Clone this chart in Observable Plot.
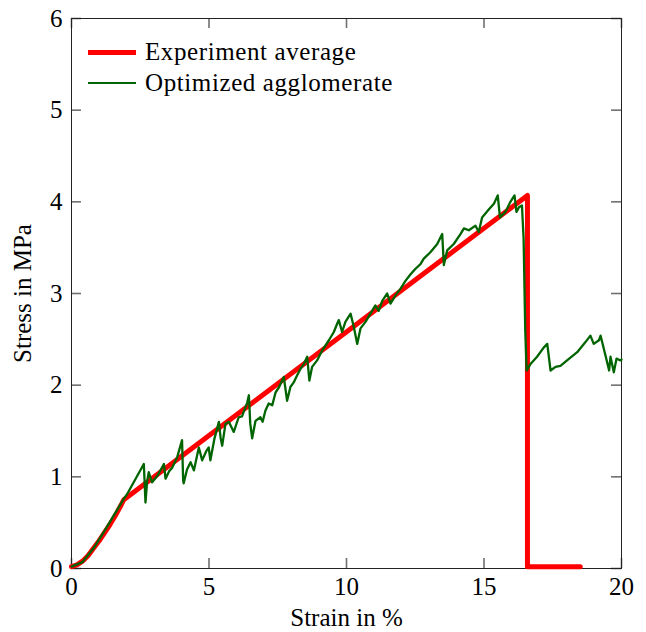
<!DOCTYPE html>
<html><head><meta charset="utf-8">
<script src="https://cdn.jsdelivr.net/npm/d3@7"></script>
<script src="https://cdn.jsdelivr.net/npm/@observablehq/plot@0.6"></script>
<style>
body{margin:0;background:#fff;}
#wrap{position:relative;width:646px;height:632px;font-family:"Liberation Serif",serif;}
.leg{position:absolute;left:88px;height:30px;display:flex;align-items:center;font-size:25px;letter-spacing:0.6px;color:#000;white-space:nowrap;}
.leg .bar{display:inline-block;width:48px;margin-right:9px;}
</style></head><body><div id="wrap"></div>
<script>
const xTicks = [0, 5, 10, 15, 20];
const yTicks = [0, 1, 2, 3, 4, 5, 6];
const seriesNames = ["Experiment average", "Optimized agglomerate"];

const redX = [0, 0.2, 0.4, 0.6, 0.8, 1.0, 1.2, 1.4, 1.6, 1.8, 1.9, 16.58, 16.58, 18.5];
const redY = [0.02, 0.04, 0.08, 0.14, 0.22, 0.30, 0.39, 0.48, 0.58, 0.69, 0.75, 4.07, 0.02, 0.02];

const greenX = [0, 0.4, 0.8, 1.2, 1.6, 1.9, 2.02, 2.63, 2.69, 2.75, 2.81, 2.93, 3.12, 3.25, 3.36, 3.42, 3.55, 3.66, 3.85, 4.02, 4.06, 4.08, 4.2, 4.33, 4.45, 4.63, 4.75, 4.9, 4.99, 5.05, 5.2, 5.36, 5.42, 5.48, 5.6, 5.72, 5.9, 6.08, 6.2, 6.39, 6.45, 6.5, 6.57, 6.69, 6.87, 6.95, 7.05, 7.17, 7.3, 7.42, 7.55, 7.72, 7.84, 7.96, 8.08, 8.21, 8.33, 8.45, 8.57, 8.65, 8.75, 8.93, 9.12, 9.36, 9.54, 9.66, 9.72, 9.84, 9.96, 10.15, 10.27, 10.39, 10.51, 10.69, 10.87, 11.05, 11.17, 11.30, 11.48, 11.6, 11.78, 11.96, 12.15, 12.33, 12.51, 12.69, 12.81, 13.05, 13.3, 13.48, 13.54, 13.66, 13.9, 14.15, 14.27, 14.45, 14.69, 14.81, 14.93, 15.18, 15.36, 15.5, 15.58, 15.78, 15.96, 16.11, 16.18, 16.27, 16.38, 16.44, 16.5, 16.55, 16.69, 16.93, 17.17, 17.3, 17.42, 17.6, 17.78, 18.02, 18.39, 18.69, 18.87, 18.99, 19.18, 19.24, 19.42, 19.55, 19.6, 19.72, 19.82, 19.96, 20.0];
const greenY = [0.02, 0.07, 0.22, 0.41, 0.61, 0.76, 0.81, 1.14, 0.72, 0.95, 1.05, 0.94, 1.01, 1.08, 1.14, 0.98, 1.06, 1.10, 1.22, 1.40, 0.96, 0.93, 1.08, 1.16, 1.07, 1.32, 1.18, 1.28, 1.32, 1.18, 1.42, 1.60, 1.43, 1.34, 1.58, 1.60, 1.49, 1.65, 1.66, 1.81, 1.89, 1.58, 1.42, 1.61, 1.65, 1.60, 1.72, 1.80, 1.78, 1.92, 1.98, 2.09, 1.83, 1.98, 2.03, 2.11, 2.18, 2.23, 2.31, 2.05, 2.20, 2.27, 2.38, 2.49, 2.58, 2.67, 2.71, 2.58, 2.69, 2.78, 2.63, 2.45, 2.62, 2.69, 2.78, 2.87, 2.81, 2.92, 3.00, 2.89, 2.98, 3.05, 3.14, 3.21, 3.27, 3.32, 3.38, 3.45, 3.54, 3.65, 3.31, 3.47, 3.54, 3.65, 3.71, 3.69, 3.74, 3.67, 3.83, 3.92, 3.98, 4.07, 3.83, 3.89, 4.00, 4.07, 3.89, 3.94, 3.96, 3.60, 2.60, 2.16, 2.23, 2.31, 2.41, 2.45, 2.16, 2.20, 2.21, 2.27, 2.36, 2.47, 2.54, 2.45, 2.49, 2.54, 2.32, 2.16, 2.31, 2.14, 2.29, 2.27, 2.28];

const redData = redX.map((x, i) => ({x, y: redY[i]}));
const greenData = greenX.map((x, i) => ({x, y: greenY[i]}));

const W = 646, H = 632, mL = 71, mR = 25, mT = 18, mB = 64;
const innerW = W - mL - mR, innerH = H - mT - mB;
const tickGray = "#707070";
const tk = 10;
const chart = Plot.plot({
  width: W, height: H,
  marginLeft: mL, marginRight: mR, marginTop: mT, marginBottom: mB,
  x: {domain: [0, 20]},
  y: {domain: [0, 6]},
  style: {fontFamily: "'Liberation Serif', serif", fontSize: "25px", background: "white", color: "#000"},
  marks: [
    Plot.tickX(xTicks, {x: d => d, insetTop: innerH - tk, stroke: tickGray, strokeWidth: 1.6}),
    Plot.tickX(xTicks, {x: d => d, insetBottom: innerH - tk, stroke: tickGray, strokeWidth: 1.6}),
    Plot.tickY(yTicks, {y: d => d, insetRight: innerW - tk, stroke: tickGray, strokeWidth: 1.6}),
    Plot.tickY(yTicks, {y: d => d, insetLeft: innerW - tk, stroke: tickGray, strokeWidth: 1.6}),
    Plot.frame({stroke: "#222", strokeWidth: 1}),
    Plot.axisX({ticks: xTicks, anchor: "bottom", tickSize: 0, tickPadding: 9, tickFormat: d3.format("d"), label: "Strain in %", labelAnchor: "center", labelArrow: "none", labelOffset: 57}),
    Plot.axisY({ticks: yTicks, anchor: "left", tickSize: 0, tickPadding: 9, tickFormat: d3.format("d"), label: "Stress in MPa", labelAnchor: "center", labelArrow: "none", labelOffset: 58}),
    Plot.line(redData, {x: "x", y: "y", stroke: "#ff0000", strokeWidth: 5}),
    Plot.line(greenData, {x: "x", y: "y", stroke: "#006400", strokeWidth: 2.3})
  ]
});
const wrap = document.getElementById("wrap");
wrap.appendChild(chart);

const legColors = ["#ff0000", "#006400"];
const legWidths = [5, 2.5];
const legCenters = [52, 83];
seriesNames.forEach((name, i) => {
  const d = document.createElement("div");
  d.className = "leg";
  d.style.top = (legCenters[i] - 15) + "px";
  const b = document.createElement("span");
  b.className = "bar";
  b.style.height = legWidths[i] + "px";
  b.style.background = legColors[i];
  d.appendChild(b);
  d.appendChild(document.createTextNode(name));
  wrap.appendChild(d);
});
</script>
</body></html>
